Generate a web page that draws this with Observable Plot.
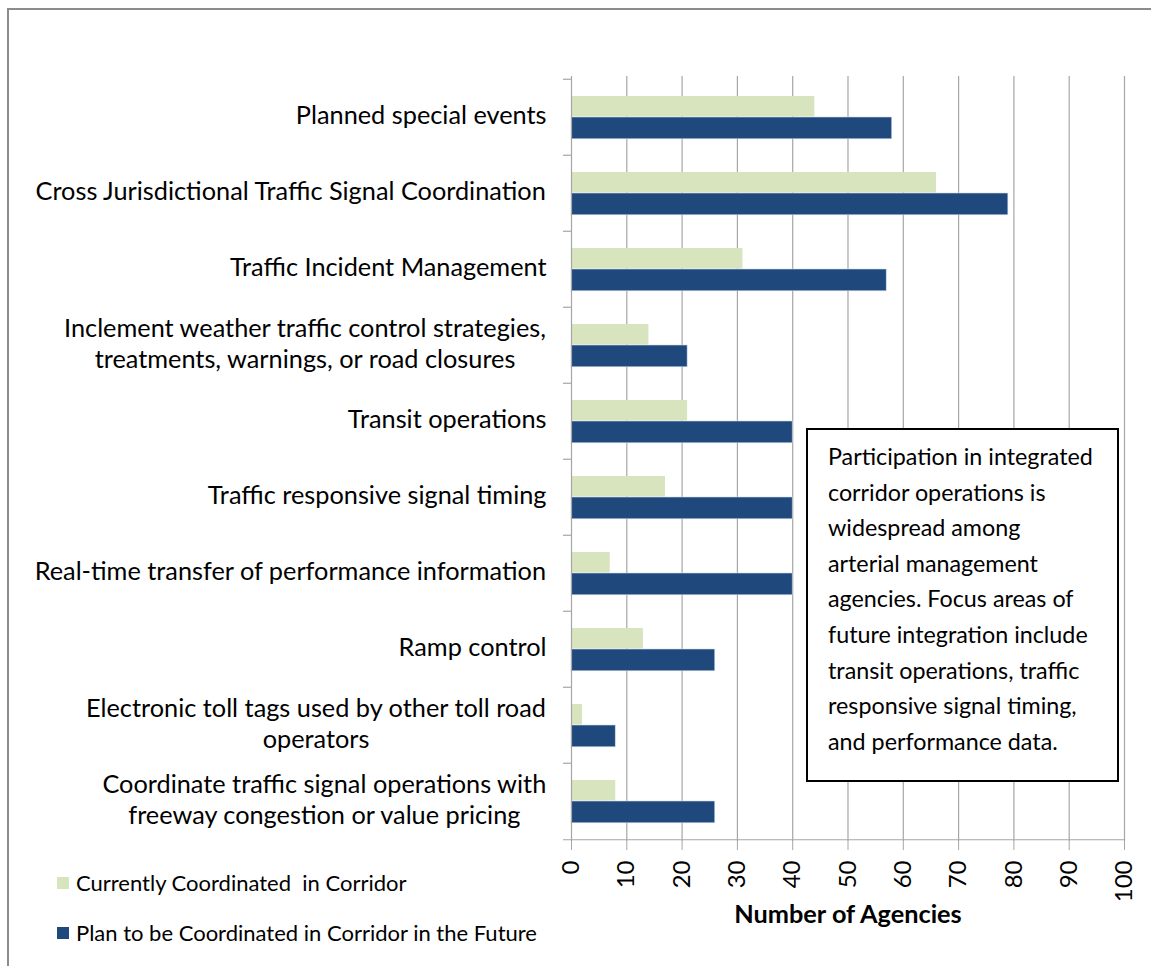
<!DOCTYPE html>
<html>
<head>
<meta charset="utf-8">
<script src="https://cdn.jsdelivr.net/npm/d3@7"></script>
<script src="https://cdn.jsdelivr.net/npm/@observablehq/plot@0.6"></script>
<style>
  html, body { margin: 0; padding: 0; background: #fff; }
  #wrap { position: relative; width: 1151px; height: 966px; overflow: hidden; font-family: Lato, sans-serif; color: #000; }
  #frameline { position: absolute; left: 7px; top: 8px; width: 1300px; height: 1100px; border-top: 2px solid #8c8c8c; border-left: 2px solid #8c8c8c; }
  #chart { position: absolute; left: 0; top: 0; }
  #note { position: absolute; left: 806px; top: 428px; width: 289px; height: 341px; border: 2px solid #000; background: #fff;
          font-size: 23.3px; line-height: 35.6px; padding: 9px 0 0 20px; box-sizing: content-box; white-space: nowrap; overflow: hidden; }
  #legend { position: absolute; left: 57px; top: 869px; font-size: 22px; }
  .lg { position: absolute; left: 0; white-space: nowrap; display: flex; align-items: center; }
  .sw { width: 12px; height: 12px; margin-right: 7px; flex: none; }
</style>
</head>
<body>
<div id="wrap">
  <div id="frameline"></div>
  <div id="chart"></div>
  <div id="note"></div>
  <div id="legend"></div>
</div>
<script>
const categories = [
  "Planned special events",
  "Cross Jurisdictional Traffic Signal Coordination",
  "Traffic Incident Management",
  "Inclement weather traffic control strategies,\ntreatments, warnings, or road closures",
  "Transit operations",
  "Traffic responsive signal timing",
  "Real-time transfer of performance information",
  "Ramp control",
  "Electronic toll tags used by other toll road\noperators",
  "Coordinate traffic signal operations with\nfreeway congestion or value pricing"
];
const currentValues = [44, 66, 31, 14, 21, 17, 7, 13, 2, 8];
const futureValues  = [58, 79, 57, 21, 40, 40, 40, 26, 8, 26];
const seriesNames = ["Currently Coordinated  in Corridor", "Plan to be Coordinated in Corridor in the Future"];
const seriesColors = ["#D7E4BD", "#1F497D"];
const xTicks = [0, 10, 20, 30, 40, 50, 60, 70, 80, 90, 100];
const xTitle = "Number of Agencies";
const noteLines = [
  "Participation in integrated",
  "corridor operations is",
  "widespread among",
  "arterial management",
  "agencies. Focus areas of",
  "future integration include",
  "transit operations, traffic",
  "responsive signal timing,",
  "and performance data."
];

const W = 1151, H = 966, mL = 571, mR = 27, mT = 76, mB = 125;
const bw = (H - mT - mB) / categories.length;
const pxPerUnit = (W - mL - mR) / 100;
const labelFont = 25.3;
const gridColor = "#a6a6a6";

const rows = categories.map((c, i) => ({category: c, current: currentValues[i], future: futureValues[i]}));

const ctx = document.createElement("canvas").getContext("2d");
ctx.font = `${labelFont}px Lato`;
const labelWidth = c => Math.max(...c.split("\n").map(s => ctx.measureText(s).width));

const tickLen = 8 / pxPerUnit;

const chart = Plot.plot({
  width: W, height: H,
  marginLeft: mL, marginRight: mR, marginTop: mT, marginBottom: mB,
  style: {fontFamily: "Lato, sans-serif", fontSize: `${labelFont}px`, color: "#000", background: "transparent", overflow: "visible"},
  x: {domain: [0, 100]},
  y: {domain: categories, padding: 0, axis: null},
  marks: [
    Plot.gridX(xTicks.filter(d => d > 0), {stroke: gridColor, strokeOpacity: 1, strokeWidth: 1.2}),
    Plot.barX(rows, {y: "category", x: "current", fill: seriesColors[0], insetTop: 17, insetBottom: bw - 38}),
    Plot.barX(rows, {y: "category", x: "future", fill: seriesColors[1], stroke: "#d0dae8", strokeWidth: 0.6, insetTop: 38, insetBottom: bw - 60.3}),
    Plot.ruleX([0], {stroke: gridColor, strokeWidth: 1.2}),
    Plot.ruleY(categories, {y: d => d, x1: -tickLen, x2: 0, dy: -bw / 2, stroke: gridColor, strokeWidth: 1.2}),
    Plot.ruleY([categories[categories.length - 1]], {y: d => d, x1: -tickLen, x2: 100, dy: bw / 2, stroke: gridColor, strokeWidth: 1.2}),
    ...categories.map(c => Plot.text([c], {
      y: d => d, x: 0, text: d => d,
      dx: -(25 + labelWidth(c) / 2), dy: -3, textAnchor: "middle",
      lineHeight: 1.23, fontSize: labelFont, fill: "#000"
    })),
    Plot.axisX(xTicks, {anchor: "bottom", tickSize: 9, tickPadding: 10, tickRotate: -90,
      stroke: gridColor, fill: "#000", fontSize: 24, label: null}),
    Plot.text([xTitle], {frameAnchor: "bottom", text: d => d, dy: 81, fontWeight: "bold", fontSize: 25.3, fill: "#000"})
  ]
});
document.getElementById("chart").appendChild(chart);

document.getElementById("note").innerHTML = noteLines.map(s => `<div>${s}</div>`).join("");

const legend = document.getElementById("legend");
seriesNames.forEach((name, i) => {
  const row = document.createElement("div");
  row.className = "lg";
  row.style.top = `${i * 50}px`;
  row.innerHTML = `<span class="sw" style="background:${seriesColors[i]}"></span><span style="white-space:pre">${name}</span>`;
  legend.appendChild(row);
});
</script>
</body>
</html>
